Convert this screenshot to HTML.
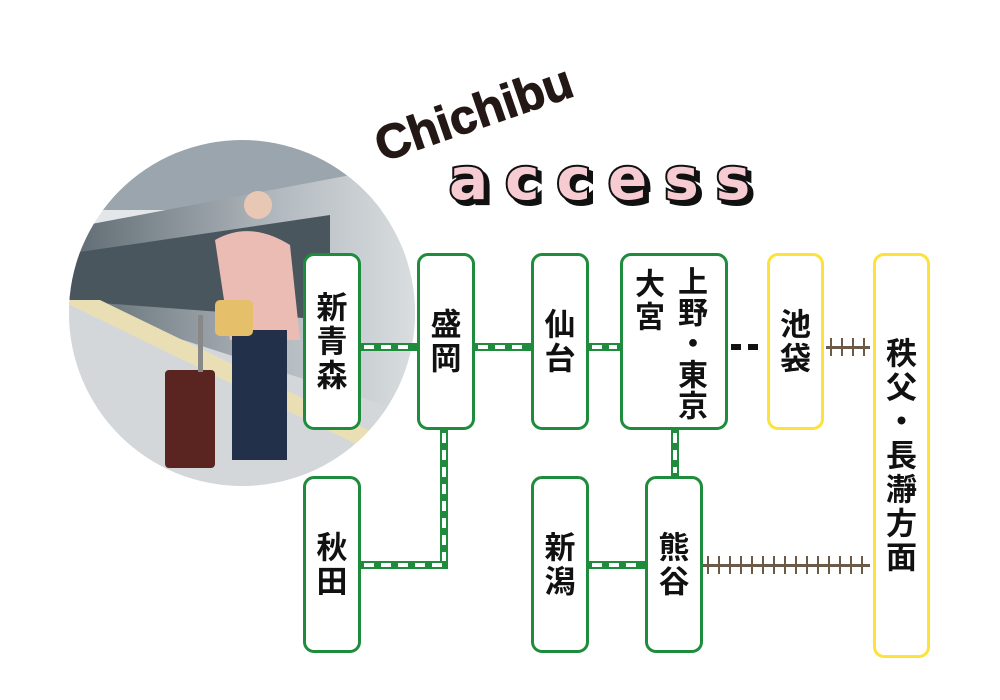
<!DOCTYPE html>
<html><head><meta charset="utf-8"><style>
body{margin:0;background:#fff;}
#c{position:relative;width:1000px;height:700px;overflow:hidden;background:#fff;font-family:"Liberation Sans","Noto Sans CJK JP",sans-serif;}
.b{position:absolute;box-sizing:border-box;border:3px solid #1e8c3c;border-radius:11px;background:#fff;display:flex;align-items:center;justify-content:center;}
.y{border-color:#fde23a;}
.v{writing-mode:vertical-rl;font-size:31px;font-weight:bold;color:#111;letter-spacing:3px;line-height:1;white-space:nowrap;font-family:"Noto Sans CJK JP",sans-serif;}
.g{position:absolute;background:#1e8c3c;}
.gh{height:8px;background:#1e8c3c;}
.gh::after{content:"";position:absolute;left:4px;right:4px;top:2px;height:4px;background:repeating-linear-gradient(90deg,#fff 0 10px,transparent 10px 17px);}
.gv{width:8px;}
.gv::after{content:"";position:absolute;top:4px;bottom:4px;left:2px;width:4px;background:repeating-linear-gradient(180deg,#fff 0 10px,transparent 10px 17px);}
.r{position:absolute;height:18px;background:linear-gradient(#6b5a47,#6b5a47) 0 8px/100% 3px no-repeat,repeating-linear-gradient(90deg,transparent 0 4px,#6b5a47 4px 6px,transparent 6px 11px);}
</style></head><body><div id="c">
<svg style="position:absolute;left:0;top:0" width="1000" height="700">
<defs><clipPath id="cp"><circle cx="242" cy="313" r="173"/></clipPath>
<linearGradient id="tr" x1="0" y1="0" x2="1" y2="0"><stop offset="0" stop-color="#5a666e"/><stop offset="0.6" stop-color="#b4bbc0"/><stop offset="1" stop-color="#dde1e3"/></linearGradient></defs>
<g clip-path="url(#cp)">
<rect x="60" y="130" width="370" height="370" fill="#e3e7ea"/>
<rect x="60" y="130" width="370" height="80" fill="#9aa5ad"/>
<polygon points="60,230 430,160 430,430 60,300" fill="url(#tr)"/>
<polygon points="60,255 330,215 330,320 60,300" fill="#4a565e"/>
<polygon points="60,300 430,420 430,500 60,500" fill="#d3d7da"/>
<polygon points="60,300 100,300 430,460 430,480" fill="#eadfb4"/>
<path d="M215,240 Q250,220 290,245 L300,340 L230,340 Z" fill="#ebbcb4"/>
<circle cx="258" cy="205" r="14" fill="#e8c8b5"/>
<rect x="232" y="330" width="55" height="130" fill="#22304a"/>
<rect x="215" y="300" width="38" height="36" rx="5" fill="#e5bf6a"/>
<rect x="165" y="370" width="50" height="98" rx="4" fill="#5a2420"/>
<rect x="198" y="315" width="5" height="57" fill="#888"/>
</g>
<text x="0" y="0" transform="translate(382,162) rotate(-19)" font-family="Liberation Sans" font-weight="bold" font-size="48" fill="#231815" stroke="#231815" stroke-width="1.2">Chichibu</text>
<text x="453" y="203" font-family="DejaVu Sans" font-weight="bold" font-size="58" letter-spacing="17" fill="#111" stroke="#111" stroke-width="4">access</text>
<text x="449" y="199" font-family="DejaVu Sans" font-weight="bold" font-size="58" letter-spacing="17" fill="#f6ccd2" stroke="#111" stroke-width="4" paint-order="stroke">access</text>
</svg>
<div class="g gh" style="left:360px;top:343px;width:58px"></div>
<div class="g gh" style="left:474px;top:343px;width:58px"></div>
<div class="g gh" style="left:588px;top:343px;width:33px"></div>
<div class="g gv" style="left:440px;top:429px;height:140px"></div>
<div class="g gh" style="left:360px;top:561px;width:88px"></div>
<div class="g gh" style="left:588px;top:561px;width:58px"></div>
<div class="g gv" style="left:671px;top:429px;height:48px"></div>
<div style="position:absolute;left:731px;top:344px;width:10px;height:6px;background:#111"></div>
<div style="position:absolute;left:748px;top:344px;width:10px;height:6px;background:#111"></div>
<div class="r" style="left:826px;top:338px;width:44px"></div>
<div class="r" style="left:703px;top:556px;width:167px"></div>
<div class="b" style="left:303px;top:253px;width:58px;height:177px"><span class="v">新青森</span></div>
<div class="b" style="left:417px;top:253px;width:58px;height:177px"><span class="v">盛岡</span></div>
<div class="b" style="left:531px;top:253px;width:58px;height:177px"><span class="v">仙台</span></div>
<div class="b" style="left:620px;top:253px;width:108px;height:177px"><span class="v" style="position:absolute;left:55px;top:10px;font-size:30px;letter-spacing:1px">上野・東京</span><span class="v" style="position:absolute;left:12px;top:12px;font-size:30px">大宮</span></div>
<div class="b y" style="left:767px;top:253px;width:57px;height:177px"><span class="v">池袋</span></div>
<div class="b y" style="left:873px;top:253px;width:57px;height:405px"><span class="v">秩父・長瀞方面</span></div>
<div class="b" style="left:303px;top:476px;width:58px;height:177px"><span class="v">秋田</span></div>
<div class="b" style="left:531px;top:476px;width:58px;height:177px"><span class="v">新潟</span></div>
<div class="b" style="left:645px;top:476px;width:58px;height:177px"><span class="v">熊谷</span></div>
</div></body></html>
